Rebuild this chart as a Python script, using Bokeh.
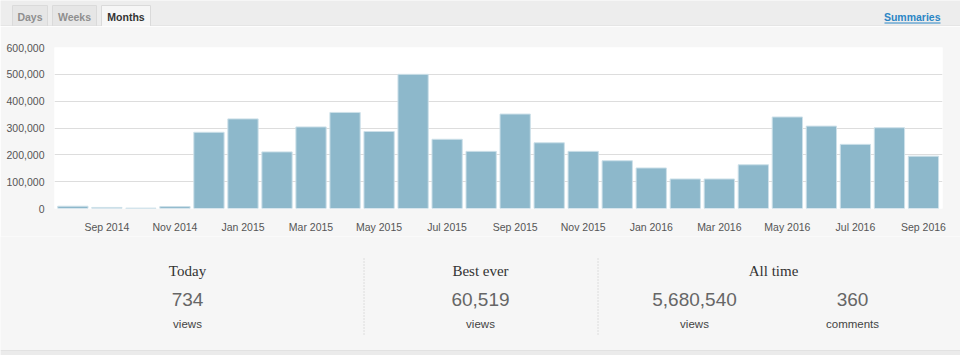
from bokeh.plotting import figure
from bokeh.layouts import column
from bokeh.models import Range1d, FixedTicker, NumeralTickFormatter
from bokeh.core.properties import value
from bokeh.embed import file_html
from bokeh.resources import INLINE

# ---------------- data ----------------
months = ["Aug 2014", "Sep 2014", "Oct 2014", "Nov 2014", "Dec 2014",
          "Jan 2015", "Feb 2015", "Mar 2015", "Apr 2015", "May 2015",
          "Jun 2015", "Jul 2015", "Aug 2015", "Sep 2015", "Oct 2015",
          "Nov 2015", "Dec 2015", "Jan 2016", "Feb 2016", "Mar 2016",
          "Apr 2016", "May 2016", "Jun 2016", "Jul 2016", "Aug 2016",
          "Sep 2016"]
views = [8500, 4000, 1500, 7000, 284000,
         334000, 211000, 304000, 358000, 287000,
         500000, 258000, 213000, 352000, 245000,
         213000, 178000, 151000, 110000, 110000,
         163000, 341000, 307000, 239000, 301000,
         195000]
y_ticks = [0, 100000, 200000, 300000, 400000, 500000, 600000]
tabs = ["Days", "Weeks", "Months"]
link_text = ["Summaries"]
stat_titles = ["Today", "Best ever", "All time"]
stat_numbers = ["734", "60,519", "5,680,540", "360"]
stat_units = ["views", "views", "views", "comments"]

SANS = value("Liberation Sans")
SERIF = value("Liberation Serif")
PANEL = "#f6f6f6"


def pixfig(h, y0, bg):
    p = figure(width=960, height=h, x_range=Range1d(0, 960),
               y_range=Range1d(y0 + h, y0), min_border=0,
               min_border_left=0, min_border_right=0,
               min_border_top=0, min_border_bottom=0,
               frame_align=False,
               toolbar_location=None, output_backend="svg",
               x_axis_location=None, y_axis_location=None,
               outline_line_color=None, background_fill_color=bg,
               border_fill_color=bg)
    p.grid.visible = False
    return p


# ---------------- tab strip ----------------
pt = pixfig(26, 0, "#ededed")
tab_left = [12, 52, 101]
tab_right = [47, 96, 150]
tab_fill = ["#e6e6e6", "#e6e6e6", PANEL]
pt.quad(left=tab_left, right=tab_right, top=[5, 5, 5], bottom=[26, 26, 26.5],
        fill_color=tab_fill, line_color="#dadada", line_width=1)
pt.segment(x0=[0, 150], y0=[25.5, 25.5], x1=[101, 960], y1=[25.5, 25.5],
           line_color="#dcdcdc", line_width=1)
pt.quad(left=[101.5], right=[149.5], top=[25], bottom=[26.5],
        fill_color=PANEL, line_color=None)
pt.text(x=[(a + b) / 2 for a, b in zip(tab_left, tab_right)], y=[16.5] * 3,
        text=tabs, text_font=SANS, text_font_size="10.5px",
        text_font_style="bold", text_color=["#8f8f8f", "#8f8f8f", "#333333"],
        text_align="center", text_baseline="middle")
pt.text(x=[940], y=[16.5], text=link_text, text_font=SANS,
        text_font_size="10.5px", text_font_style="bold",
        text_color="#2b86c5", text_align="right", text_baseline="middle")
pt.segment(x0=[884], y0=[22.5], x1=[940], y1=[22.5], line_color="#2b86c5",
           line_width=1)

# ---------------- bar chart ----------------
pc = figure(width=960, height=210, x_range=Range1d(-0.54, 25.56),
            y_range=Range1d(0, 600000), min_border_top=21,
            min_border_bottom=28, min_border_left=54, min_border_right=18,
            frame_align=False,
            toolbar_location=None, output_backend="svg",
            background_fill_color="white", border_fill_color=PANEL,
            outline_line_color=None)
pc.vbar(x=list(range(len(months))), top=views, width=0.89,
        fill_color="#8db8cb", line_color="#cde0e9", line_width=1)

pc.xgrid.visible = False
pc.ygrid.ticker = FixedTicker(ticks=y_ticks)
pc.ygrid.grid_line_color = "#dddddd"

label_idx = list(range(1, len(months), 2))
pc.xaxis.ticker = FixedTicker(ticks=label_idx)
pc.xaxis.major_label_overrides = {i: months[i] for i in label_idx}
pc.yaxis.ticker = FixedTicker(ticks=y_ticks)
pc.yaxis.formatter = NumeralTickFormatter(format="0,0")
for ax in (pc.xaxis[0], pc.yaxis[0]):
    ax.axis_line_color = None
    ax.major_tick_line_color = None
    ax.minor_tick_line_color = None
    ax.major_label_text_font = "Liberation Sans"
    ax.major_label_text_font_size = "10.5px"
    ax.major_label_text_color = "#555555"
pc.xaxis.major_label_standoff = 6
pc.yaxis.major_label_standoff = 4

# ---------------- stats ----------------
ps = pixfig(119, 236, PANEL)
ps.quad(left=[0], right=[960], top=[350], bottom=[355],
        fill_color="#ebebeb", line_color=None)
ps.segment(x0=[0], y0=[350], x1=[960], y1=[350], line_color="#e2e2e2",
           line_width=1)
ps.segment(x0=[363.5, 597.5], y0=[258, 258], x1=[363.5, 597.5],
           y1=[334, 334], line_color="#c4c4c4", line_width=1,
           line_dash="1 2")
ps.text(x=[187, 480, 773], y=[270.5] * 3, text=stat_titles, text_font=SERIF,
        text_font_size="15px", text_color="#333333", text_align="center",
        text_baseline="middle")
ps.text(x=[187, 480, 694, 852], y=[298.5] * 4, text=stat_numbers,
        text_font=SANS, text_font_size="19px", text_color="#666666",
        text_align="center", text_baseline="middle")
ps.text(x=[187, 480, 694, 852], y=[323] * 4, text=stat_units,
        text_font=SANS, text_font_size="11.5px", text_color="#444444",
        text_align="center", text_baseline="middle")

layout = column(pt, pc, ps, spacing=0)
open("out.html", "w").write(file_html(layout, INLINE))
